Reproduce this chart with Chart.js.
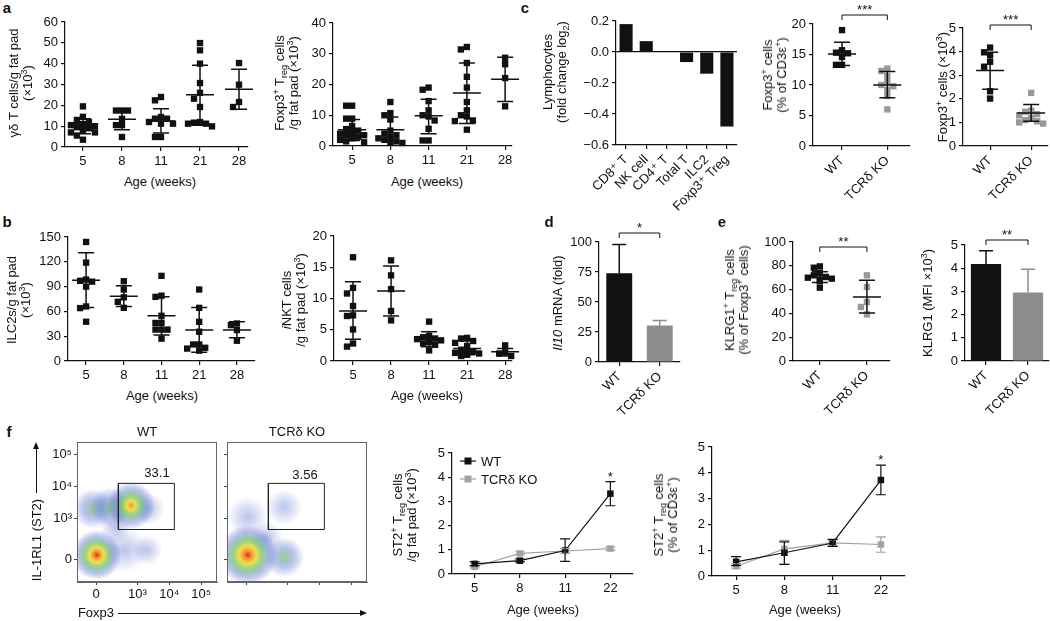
<!DOCTYPE html>
<html>
<head>
<meta charset="utf-8">
<script src="https://cdn.jsdelivr.net/npm/chart.js@4.4.0/dist/chart.umd.min.js"></script>
<style>
body{margin:0;background:#fff;overflow:hidden}
#wrap{position:relative;width:1050px;height:621px;overflow:hidden;font-family:"Liberation Sans","DejaVu Sans",Arial,sans-serif;color:#111}
canvas{position:absolute}
.t{position:absolute;font-size:13px;white-space:nowrap;line-height:14px;text-align:center;transform:translate(-50%,-50%)}
.b{font-weight:bold;font-size:15px}
sup,sub{font-size:9px;line-height:0;position:relative;vertical-align:baseline}
sup{top:-0.55em}
sub{top:0.35em}
.ln{position:absolute;background:#111}
</style>
</head>
<body>
<div id="wrap"></div>
<script>
// ---- data ----
var ageCats = ['5', '8', '11', '21', '28'];
var genoCats = ['WT', 'TCRδ KO'];
var ageCatsF = ['5', '8', '11', '22'];

// a: gd T cells / g fat pad (x10^3)
var gdT = [[19.5, 14.5, 13, 12, 11, 10.5, 10, 10, 9.5, 9.5, 9, 8, 7, 7, 5.5, 3.5],
           [17.5, 17.5, 17.5, 13.5, 10.5, 10.5, 4.8],
           [24, 22.4, 14.4, 13.6, 13.6, 12, 11.2, 11.2, 4.8, 4.8],
           [49.9, 46.4, 40, 30.7, 26, 23.2, 19.2, 12, 11.7, 11.2, 11.2, 9.9],
           [40.3, 29.9, 21.6, 19.2]];
var gdTMean = [9.9, 13.3, 12.5, 25.1, 27.7];
var gdTLo = [6.4, 8.3, 6.7, 10.4, 18.1];
var gdTHi = [13.6, 17.9, 18.4, 39.2, 37.3];

// a: Foxp3+ Treg / g fat pad
var treg = [[13.1, 13.1, 8.9, 8.9, 6.5, 5.5, 5, 4.5, 4, 3.5, 3.5, 3, 3, 2.5, 2, 1.5, 1.2],
            [14.3, 10.7, 10, 8.6, 5, 4, 3.5, 3, 2.5, 2, 1.5, 1, 1],
            [19, 18.3, 14.6, 11.6, 10, 9.6, 8.3, 5.6, 1.8, 1.8],
            [32.2, 31.4, 27, 22.5, 19, 14.3, 11.6, 10, 9.6, 8.3, 8.1, 5.3],
            [28.7, 26.6, 22.1, 12.9]];
var tregMean = [5.3, 5.3, 9.8, 17.2, 21.7];
var tregLo = [1.8, 1.8, 4, 7.3, 14.5];
var tregHi = [8.6, 9.4, 15.2, 27, 28.9];

// b: ILC2s / g fat pad
var ilc2 = [[144, 119, 98.5, 97, 96, 90, 66, 64, 47.5],
            [96.5, 86.5, 77, 71.6, 64.3],
            [103, 79, 77.6, 54.7, 46.2, 46, 38, 38, 38, 27],
            [86.5, 64.3, 47.4, 35.4, 20, 20, 16, 15, 12.5],
            [45.4, 43.4, 37.4, 24.5]];
var ilc2Mean = [97.7, 78.4, 54.7, 37.4, 37.4];
var ilc2Lo = [64.7, 66, 31.4, 10.5, 28];
var ilc2Hi = [131, 91, 77.6, 64.7, 47.4];

// b: iNKT cells / g fat pad
var inkt = [[16.6, 11.7, 10.8, 8.8, 7.3, 7.2, 5.05, 2.8, 2.3],
            [16.1, 13.7, 11.5, 8, 6.5],
            [6.3, 4, 3.8, 3.6, 3.5, 3.3, 3, 2.8, 2.6, 1.7],
            [3.7, 3.6, 3.2, 2.9, 2.4, 1.8, 1.5, 1.4, 1.3, 1.2, 1.0, 0.9, 0.8],
            [2.5, 1.4, 1.2, 0.8]];
var inktMean = [8.0, 11.2, 3.5, 2.0, 1.5];
var inktLo = [3.5, 7.2, 2.3, 1.0, 0.8];
var inktHi = [12.7, 15.2, 4.7, 3.2, 2.0];

// c: lymphocytes fold change (log2)
var lymphCats = ['CD8⁺ T', 'NK cell', 'CD4⁺ T', 'Total T', 'ILC2', 'Foxp3⁺ Treg'];
var lymphFold = [0.18, 0.07, 0, -0.065, -0.14, -0.48];

// c: Foxp3+ (% of CD3e+)
var foxPct = [[19, 15.7, 15.3, 15.2, 14.6, 13.3, 13.3],
              [12.7, 12.3, 11.5, 10.5, 10, 9.8, 9.2, 8.2, 6]];
var foxPctMean = [15.1, 10.0];
var foxPctLo = [13.2, 7.9];
var foxPctHi = [17.0, 12.2];

// c: Foxp3+ cells (x10^3)
var foxNum = [[4.17, 3.97, 3.85, 3.57, 3.36, 2.32, 2.01],
              [2.25, 1.5, 1.45, 1.35, 1.3, 1.2, 1.1, 1.05, 1.0, 0.95]];
var foxNumMean = [3.2, 1.4];
var foxNumLo = [2.4, 1.05];
var foxNumHi = [3.97, 1.76];

// d: Il10 mRNA (fold)
var il10 = [74, 30.5];
var il10Hi = [98, 34.5];

// e: KLRG1+ Treg (% of Foxp3+)
var klrgPct = [[79.5, 78.4, 74, 72, 70.6, 70, 69.2, 67.8, 67, 61.6],
               [72, 62.2, 49.6, 45.4, 39.2]];
var klrgPctMean = [70.6, 53.8];
var klrgPctLo = [66, 40.3];
var klrgPctHi = [75, 67.8];

// e: KLRG1 MFI (x10^3)
var klrgMfi = [4.18, 2.95];
var klrgMfiHi = [4.75, 3.95];

// f: ST2+ Treg / g fat pad
var st2gWT = [0.42, 0.55, 0.97, 3.32];
var st2gWTLo = [0.35, 0.5, 0.52, 2.82];
var st2gWTHi = [0.5, 0.62, 1.45, 3.82];
var st2gKO = [0.3, 0.85, 0.95, 1.05];
var st2gKOLo = [0.25, 0.8, 0.85, 0.98];
var st2gKOHi = [0.35, 0.92, 1.05, 1.12];

// f: ST2+ Treg (% of CD3e+)
var st2pWT = [0.55, 0.9, 1.28, 3.72];
var st2pWTLo = [0.4, 0.45, 1.15, 3.15];
var st2pWTHi = [0.75, 1.32, 1.42, 4.3];
var st2pKO = [0.38, 1.05, 1.28, 1.22];
var st2pKOLo = [0.3, 0.45, 1.18, 0.92];
var st2pKOHi = [0.48, 1.38, 1.4, 1.52];

// f: flow plots, populations in logicle decade units (0 sits near 1.7),
// r = spread in px, p = how far down the heat scale the core starts (0 = red core)
var flowGate = [[2.4, 2.65], [4.16, 2.65], [4.16, 4.1], [2.4, 4.1], [2.4, 2.65]];
var wtPops = [{x: 2.6, y: 2.0, r: 22, p: 4}, {x: 3.3, y: 2.0, r: 15, p: 4}, {x: 2.3, y: 2.7, r: 15, p: 4},
              {x: 3.35, y: 3.3, r: 16, p: 4}, {x: 1.6, y: 3.3, r: 20, p: 3}, {x: 2.15, y: 3.35, r: 20, p: 3},
              {x: 2.8, y: 3.4, r: 24, p: 1}, {x: 1.72, y: 1.85, r: 25, p: 0}];
var koPops = [{x: 2.9, y: 3.35, r: 18, p: 4}, {x: 1.75, y: 3.05, r: 20, p: 4}, {x: 2.35, y: 2.4, r: 16, p: 4},
              {x: 2.9, y: 1.78, r: 20, p: 3}, {x: 1.75, y: 1.85, r: 30, p: 0}];
var flowTicks = [1.7, 3, 4, 5];
var flowTickLabels = ['0', '10³', '10⁴', '10⁵'];

// ---- drawing ----
var INK = '#111';
var GREY = '#999';
var FAM = '"Liberation Sans","DejaVu Sans",Arial,sans-serif';
var FONT = {family: FAM, size: 13};
var YW = 48, PT = 32, PR = 12;
var HEAT = [[0, 'rgba(215,35,25,0.95)'], [0.14, 'rgba(245,140,30,0.9)'], [0.3, 'rgba(235,220,50,0.85)'],
            [0.5, 'rgba(90,185,80,0.65)'], [0.75, 'rgba(55,90,200,0.35)'], [1, 'rgba(50,60,190,0)']];
var wrap = document.getElementById('wrap');

function mkCanvas(box, xh) {
    var c = document.createElement('canvas');
    c.width = box[2] - box[0] + YW + PR;
    c.height = box[3] - box[1] + PT + xh;
    c.style.left = (box[0] - YW) + 'px';
    c.style.top = (box[1] - PT) + 'px';
    wrap.appendChild(c);
    return c.getContext('2d');
}

function axisY(yr, step, fmt) {
    return {
        min: yr[0], max: yr[1],
        ticks: {stepSize: step, color: INK, font: FONT, padding: 3, callback: fmt || function(v) { return v; }},
        grid: {drawOnChartArea: false, tickLength: 4, color: INK, tickColor: INK, lineWidth: 1.2},
        border: {color: INK, width: 1.2},
        afterFit: function(s) { s.width = YW; }
    };
}

function axisXLin(xr, cats, xh, rot) {
    return {
        type: 'linear', min: xr[0], max: xr[1],
        afterBuildTicks: function(s) { s.ticks = cats.map(function(c, i) { return {value: i}; }); },
        ticks: {color: INK, font: FONT, padding: 3, autoSkip: false, maxRotation: rot ? 45 : 0, minRotation: rot ? 45 : 0,
                callback: function(v) { return cats[v]; }},
        grid: {drawOnChartArea: false, tickLength: 4, color: INK, lineWidth: 1.2},
        border: {color: INK, width: 1.2},
        afterFit: function(s) { s.height = xh; }
    };
}

function axisXCat(xh, rot) {
    return {
        type: 'category', offset: true,
        ticks: {color: INK, font: FONT, padding: 3, autoSkip: false, maxRotation: rot ? 45 : 0, minRotation: rot ? 45 : 0},
        grid: {offset: false, drawOnChartArea: false, tickLength: 4, color: INK, lineWidth: 1.2},
        border: {color: INK, width: 1.2},
        afterFit: function(s) { s.height = xh; }
    };
}

function baseOpts(x, y) {
    return {
        responsive: false, animation: false, events: [],
        layout: {autoPadding: false, padding: {top: PT, right: PR, left: 0, bottom: 0}},
        plugins: {legend: {display: false}, tooltip: {enabled: false}},
        scales: {x: x, y: y}
    };
}

// spread points sideways (within a narrow band) so the squares mostly don't overlap
function swarm(vals, center, xPx, yPx, size, maxOff) {
    var placed = [], out = [];
    vals.forEach(function(v) {
        var py = v * yPx, best = 0, bestHits = 1e9;
        for (var k = 0; k < 40; k++) {
            var cand = (k % 2 ? -1 : 1) * Math.ceil(k / 2) * size / 2;
            if (Math.abs(cand) > maxOff) break;
            var hits = placed.filter(function(p) { return Math.abs(p[0] - cand) < size && Math.abs(p[1] - py) < size; }).length;
            if (hits < bestHits) { bestHits = hits; best = cand; if (!hits) break; }
        }
        placed.push([best, py]);
        out.push({x: center + best / xPx, y: v});
    });
    return out;
}

function meanSd(mean, lo, hi) {
    return {id: 'meanSd', afterDatasetsDraw: function(ch) {
        var c = ch.ctx, xs = ch.scales.x, ys = ch.scales.y;
        c.save();
        c.strokeStyle = INK; c.lineWidth = 1.5;
        mean.forEach(function(m, i) {
            var x = xs.getPixelForValue(i), ym = ys.getPixelForValue(m);
            var yl = ys.getPixelForValue(lo[i]), yh = ys.getPixelForValue(hi[i]);
            c.beginPath();
            c.moveTo(x - 14, ym); c.lineTo(x + 14, ym);
            c.moveTo(x, yl); c.lineTo(x, yh);
            c.moveTo(x - 8, yl); c.lineTo(x + 8, yl);
            c.moveTo(x - 8, yh); c.lineTo(x + 8, yh);
            c.stroke();
        });
        c.restore();
    }};
}

function bracket(a, b, dy, label) {
    return {id: 'bracket', afterDraw: function(ch) {
        var c = ch.ctx, xs = ch.scales.x;
        var y = ch.chartArea.top - dy, x1 = xs.getPixelForValue(a), x2 = xs.getPixelForValue(b);
        c.save();
        c.strokeStyle = INK; c.lineWidth = 1;
        c.beginPath();
        c.moveTo(x1, y + 5); c.lineTo(x1, y); c.lineTo(x2, y); c.lineTo(x2, y + 5);
        c.stroke();
        c.fillStyle = INK; c.font = '13px ' + FAM; c.textAlign = 'center';
        c.fillText(label, (x1 + x2) / 2, y - 1);
        c.restore();
    }};
}

function barErr(hi, cols) {
    return {id: 'barErr', afterDatasetsDraw: function(ch) {
        var c = ch.ctx, xs = ch.scales.x, ys = ch.scales.y, d = ch.data.datasets[0].data;
        c.save(); c.lineWidth = 1.5;
        hi.forEach(function(h, i) {
            var x = xs.getPixelForValue(i), y0 = ys.getPixelForValue(d[i]), y1 = ys.getPixelForValue(h);
            c.strokeStyle = cols[i];
            c.beginPath();
            c.moveTo(x, y0); c.lineTo(x, y1);
            c.moveTo(x - 7, y1); c.lineTo(x + 7, y1);
            c.stroke();
        });
        c.restore();
    }};
}

function lineErr(los, his, star) {
    return {id: 'lineErr', afterDatasetsDraw: function(ch) {
        var c = ch.ctx, xs = ch.scales.x, ys = ch.scales.y;
        c.save(); c.lineWidth = 1.2;
        for (var k = ch.data.datasets.length - 1; k >= 0; k--) {
            c.strokeStyle = ch.data.datasets[k].borderColor;
            los[k].forEach(function(l, i) {
                var x = xs.getPixelForValue(i), yl = ys.getPixelForValue(l), yh = ys.getPixelForValue(his[k][i]);
                c.beginPath();
                c.moveTo(x, yl); c.lineTo(x, yh);
                c.moveTo(x - 5, yl); c.lineTo(x + 5, yl);
                c.moveTo(x - 5, yh); c.lineTo(x + 5, yh);
                c.stroke();
            });
        }
        var sx = xs.getPixelForValue(star), sy = ys.getPixelForValue(his[0][star]);
        c.fillStyle = INK; c.font = '13px ' + FAM; c.textAlign = 'center';
        c.fillText('*', sx, sy - 1);
        c.restore();
    }};
}

var lineLegend = {id: 'lineLegend', afterDraw: function(ch) {
    var c = ch.ctx, a = ch.chartArea;
    ch.data.datasets.forEach(function(ds, i) {
        var x = a.left + 8, y = a.top + 8 + i * 18;
        c.save();
        c.strokeStyle = ds.borderColor; c.fillStyle = ds.borderColor; c.lineWidth = 1.2;
        c.beginPath(); c.moveTo(x, y); c.lineTo(x + 16, y); c.stroke();
        c.fillRect(x + 4.5, y - 3.5, 7, 7);
        c.fillStyle = INK; c.font = '13px ' + FAM; c.textBaseline = 'middle'; c.textAlign = 'left';
        c.fillText(ds.label, x + 21, y + 1);
        c.restore();
    });
}};

function scatterPanel(box, xr, yr, step, cats, groups, cols, mean, lo, hi, xh, rot, extra) {
    var ctx = mkCanvas(box, xh);
    var xPx = (box[2] - box[0]) / (xr[1] - xr[0]), yPx = (box[3] - box[1]) / (yr[1] - yr[0]);
    var ds = groups.map(function(g, i) {
        return {data: swarm(g, i, xPx, yPx, 6, 16), backgroundColor: cols[i], borderWidth: 0,
                pointStyle: 'rect', pointRadius: 4.5, clip: false};
    });
    return new Chart(ctx, {
        type: 'scatter',
        data: {datasets: ds},
        options: baseOpts(axisXLin(xr, cats, xh, rot), axisY(yr, step)),
        plugins: [meanSd(mean, lo, hi)].concat(extra || [])
    });
}

function barPanel(box, yr, step, cats, vals, cols, xh, rot, pct, extra) {
    var ctx = mkCanvas(box, xh);
    return new Chart(ctx, {
        type: 'bar',
        data: {labels: cats, datasets: [{data: vals, backgroundColor: cols, borderWidth: 0,
                barPercentage: pct, categoryPercentage: 1}]},
        options: baseOpts(axisXCat(xh, rot), axisY(yr, step)),
        plugins: extra || []
    });
}

function linePanel(box, wt, ko, errLo, errHi, extra) {
    var ctx = mkCanvas(box, 22);
    var sets = [
        {label: 'WT', data: wt, borderColor: INK, backgroundColor: INK},
        {label: 'TCRδ KO', data: ko, borderColor: '#a3a3a3', backgroundColor: '#a3a3a3'}
    ].map(function(d) {
        d.borderWidth = 1.2; d.pointStyle = 'rect'; d.pointRadius = 4.6; d.pointBorderWidth = 0;
        d.pointBackgroundColor = d.borderColor; d.clip = false; d.tension = 0;
        return d;
    });
    return new Chart(ctx, {
        type: 'line',
        data: {labels: ageCatsF, datasets: sets},
        options: baseOpts(axisXCat(22, false), axisY([0, 5], 1)),
        plugins: [lineErr(errLo, errHi, 3)].concat(extra || [])
    });
}

var flowBox = {id: 'flowBox', afterDraw: function(ch) {
    var c = ch.ctx, a = ch.chartArea;
    c.save(); c.strokeStyle = '#666'; c.lineWidth = 1;
    c.strokeRect(a.left + 0.5, a.top + 0.5, a.right - a.left - 1, a.bottom - a.top - 1);
    c.restore();
}};

function flowAxis(showLabels, xh, horiz) {
    return {
        type: 'linear', min: horiz ? 1.1 : 1.0, max: horiz ? 5.5 : 5.4,
        afterBuildTicks: function(s) { s.ticks = flowTicks.map(function(v) { return {value: v}; }); },
        ticks: {color: INK, font: FONT, padding: 2, autoSkip: false, maxRotation: 0,
                callback: function(v, i) { return showLabels ? flowTickLabels[i] : ''; }},
        grid: {drawOnChartArea: false, tickLength: 3, color: '#444', lineWidth: 1},
        border: {color: '#666', width: 1},
        afterFit: function(s) { if (horiz) s.height = xh; else s.width = YW; }
    };
}

// density colouring: radial gradient from the population's core heat out to clear blue
function heatFill(c) {
    if (!c.raw || c.raw.r === undefined) return 'rgba(0,0,0,0)';
    var ch = c.chart, x = ch.scales.x.getPixelForValue(c.raw.x), y = ch.scales.y.getPixelForValue(c.raw.y);
    if (!isFinite(x) || !isFinite(y)) return 'rgba(0,0,0,0)';
    var g = ch.ctx.createRadialGradient(x, y, 0, x, y, c.raw.r);
    var st = HEAT.slice(c.raw.p), p0 = st[0][0];
    st.forEach(function(s) { g.addColorStop((s[0] - p0) / (1 - p0), s[1]); });
    return g;
}

function flowPanel(box, pops, showY) {
    var ctx = mkCanvas(box, 22);
    return new Chart(ctx, {
        type: 'bubble',
        data: {datasets: [
            {type: 'line', data: flowGate.map(function(p) { return {x: p[0], y: p[1]}; }),
             borderColor: '#222', borderWidth: 1, pointRadius: 0, fill: false, tension: 0},
            {data: pops, backgroundColor: heatFill, borderWidth: 0}
        ]},
        options: baseOpts(flowAxis(showY, 22, true), flowAxis(showY, 22, false)),
        plugins: [flowBox]
    });
}

// a
scatterPanel([65, 22, 248, 147], [-0.46, 4.23], [0, 60], 10, ageCats, gdT,
    [INK, INK, INK, INK, INK], gdTMean, gdTLo, gdTHi, 22, false);
scatterPanel([333, 23, 512, 146], [-0.5, 4.18], [0, 40], 10, ageCats, treg,
    [INK, INK, INK, INK, INK], tregMean, tregLo, tregHi, 22, false);
// b
scatterPanel([68, 237, 255, 361], [-0.48, 4.48], [0, 150], 30, ageCats, ilc2,
    [INK, INK, INK, INK, INK], ilc2Mean, ilc2Lo, ilc2Hi, 22, false);
scatterPanel([334, 236, 512, 361], [-0.5, 4.18], [0, 20], 5, ageCats, inkt,
    [INK, INK, INK, INK, INK], inktMean, inktLo, inktHi, 22, false);
// c
(function() {
    var ctx = mkCanvas([616, 21, 737, 145], 80);
    var y = axisY([-0.6, 0.2], 0.2, function(v) { return Number(v).toFixed(1).replace('-', '−'); });
    y.grid.drawOnChartArea = true;
    y.grid.color = function(c) { return c.tick && Math.abs(c.tick.value) < 1e-9 ? INK : 'rgba(0,0,0,0)'; };
    new Chart(ctx, {
        type: 'bar',
        data: {labels: lymphCats, datasets: [{data: lymphFold, backgroundColor: INK, borderWidth: 0,
                barPercentage: 0.65, categoryPercentage: 1}]},
        options: baseOpts(axisXCat(80, true), y)
    });
})();
scatterPanel([813, 24, 910, 146], [-0.64, 1.5], [0, 20], 5, genoCats, foxPct,
    [INK, GREY], foxPctMean, foxPctLo, foxPctHi, 60, true, [bracket(0, 1, 9, '***')]);
scatterPanel([963, 28, 1048, 146], [-0.66, 1.41], [0, 5], 1, genoCats, foxNum,
    [INK, GREY], foxNumMean, foxNumLo, foxNumHi, 60, true, [bracket(0, 1, 3, '***')]);
// d
barPanel([599, 242, 680, 362], [0, 100], 25, genoCats, il10, [INK, '#8c8c8c'], 60, true, 0.64,
    [barErr(il10Hi, [INK, '#8c8c8c']), bracket(0, 1, 9, '*')]);
// e
scatterPanel([793, 242, 890, 361], [-0.57, 1.49], [0, 100], 20, genoCats, klrgPct,
    [INK, GREY], klrgPctMean, klrgPctLo, klrgPctHi, 60, true, [bracket(0, 1, -5, '**')]);
barPanel([965, 245, 1049, 361], [0, 5], 1, genoCats, klrgMfi, [INK, '#8c8c8c'], 60, true, 0.72,
    [barErr(klrgMfiHi, [INK, '#8c8c8c']), bracket(0, 1, 5, '**')]);
// f
flowPanel([77, 442, 217, 582], wtPops, true);
flowPanel([227, 442, 367, 582], koPops, false);
linePanel([452, 453, 633, 574], st2gWT, st2gKO, [st2gWTLo, st2gKOLo], [st2gWTHi, st2gKOHi], [lineLegend]);
linePanel([712, 447, 905, 576], st2pWT, st2pKO, [st2pWTLo, st2pKOLo], [st2pWTHi, st2pKOHi]);

// ---- text ----
function txt(html, x, y, rot, cls) {
    var d = document.createElement('div');
    d.className = 't' + (cls ? ' ' + cls : '');
    d.innerHTML = html;
    d.style.left = x + 'px';
    d.style.top = y + 'px';
    if (rot) d.style.transform = 'translate(-50%,-50%) rotate(-90deg)';
    wrap.appendChild(d);
}
txt('a', 7, 8, false, 'b');
txt('b', 7, 222, false, 'b');
txt('c', 525, 8, false, 'b');
txt('d', 549, 222, false, 'b');
txt('e', 722, 222, false, 'b');
txt('f', 9, 432, false, 'b');

txt('γδ T cells/g fat pad<br>(×10<sup>3</sup>)', 21, 83, true);
txt('Foxp3<sup>+</sup> T<sub>reg</sub> cells<br>/g fat pad (×10<sup>3</sup>)', 287, 83, true);
txt('ILC2s/g fat pad<br>(×10<sup>3</sup>)', 19, 300, true);
txt('<i>i</i>NKT cells<br>/g fat pad (×10<sup>3</sup>)', 294, 300, true);
txt('Lymphocytes<br>(fold change log<sub>2</sub>)', 555, 72, true);
txt('Foxp3<sup>+</sup> cells<br>(% of CD3ε<sup>+</sup>)', 775, 75, true);
txt('Foxp3<sup>+</sup> cells (×10<sup>3</sup>)', 943, 87, true);
txt('<i>Il10</i> mRNA (fold)', 558, 303, true);
txt('KLRG1<sup>+</sup> T<sub>reg</sub> cells<br>(% of Foxp3<sup>+</sup> cells)', 737, 300, true);
txt('KLRG1 (MFI ×10<sup>3</sup>)', 928, 303, true);
txt('ST2<sup>+</sup> T<sub>reg</sub> cells<br>/g fat pad (×10<sup>3</sup>)', 405, 515, true);
txt('ST2<sup>+</sup> T<sub>reg</sub> cells<br>(% of CD3ε<sup>+</sup>)', 666, 515, true);

txt('Age (weeks)', 160, 182);
txt('Age (weeks)', 427, 182);
txt('Age (weeks)', 162, 396);
txt('Age (weeks)', 427, 396);
txt('Age (weeks)', 543, 610);
txt('Age (weeks)', 805, 610);

txt('WT', 147, 432);
txt('TCRδ KO', 297, 432);
txt('33.1', 157, 473);
txt('3.56', 305, 475);
txt('IL-1RL1 (ST2)', 37, 540, true);
txt('Foxp3', 96, 613);

function bar(l, t, w, h) {
    var d = document.createElement('div');
    d.className = 'ln';
    d.style.left = l + 'px'; d.style.top = t + 'px';
    d.style.width = w + 'px'; d.style.height = h + 'px';
    wrap.appendChild(d);
}
bar(36, 448, 1, 45);
bar(118, 613, 244, 1);
var up = document.createElement('div');
up.style.cssText = 'position:absolute;left:33px;top:442px;width:0;height:0;border-left:3.5px solid transparent;border-right:3.5px solid transparent;border-bottom:7px solid #111';
wrap.appendChild(up);
var rt = document.createElement('div');
rt.style.cssText = 'position:absolute;left:360px;top:610px;width:0;height:0;border-top:3.5px solid transparent;border-bottom:3.5px solid transparent;border-left:7px solid #111';
wrap.appendChild(rt);
</script>
</body>
</html>
